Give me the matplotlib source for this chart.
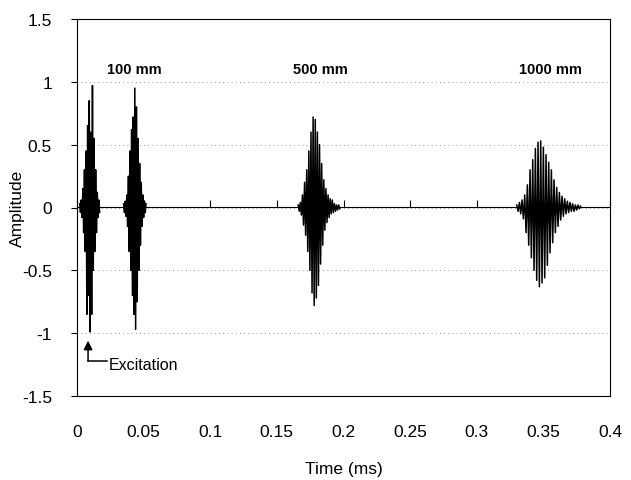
# Ultrasonic wave packets - amplitude vs time
import numpy as np
import matplotlib.pyplot as plt
from matplotlib.ticker import FuncFormatter

plt.rcParams['font.family'] = ['Liberation Sans', 'DejaVu Sans']
plt.rcParams['axes.unicode_minus'] = False

# --- DATA (alternating half-cycle peaks) ---
exc_start, exc_step = 0.002, 0.0006
exc_peaks = [0.03, -0.04, 0.06, -0.08, 0.15, -0.2, 0.3, -0.35, 0.45, -0.85,
             0.65, -0.7, 0.85, -0.99, 0.6, -0.85, 0.97, -0.5, 0.55, -0.35,
             0.3, -0.2, 0.12, -0.08, 0.06, -0.04]

p100_start, p100_step = 0.035, 0.0006
p100_peaks = [0.03, -0.04, 0.05, -0.07, 0.1, -0.15, 0.25, -0.35, 0.45, -0.5,
              0.62, -0.7, 0.72, -0.85, 0.95, -0.97, 0.8, -0.75, 0.55, -0.5,
              0.35, -0.3, 0.2, -0.15, 0.1, -0.08, 0.05, -0.04, 0.03]

p500_start, p500_step = 0.166, 0.0008
p500_peaks = [0.02, -0.03, 0.04, -0.06, 0.1, -0.14, 0.2, -0.22, 0.3, -0.35,
              0.45, -0.5, 0.6, -0.68, 0.72, -0.78, 0.7, -0.72, 0.6, -0.62,
              0.5, -0.45, 0.35, -0.3, 0.22, -0.18, 0.15, -0.12, 0.1, -0.08,
              0.07, -0.05, 0.06, -0.04, 0.03, -0.03, 0.02, -0.02, 0.02, -0.01]

p1000_start, p1000_step = 0.330, 0.001
p1000_peaks = [0.02, -0.03, 0.04, -0.05, 0.06, -0.09, 0.1, -0.2, 0.18, -0.3,
               0.3, -0.4, 0.38, -0.5, 0.47, -0.58, 0.52, -0.63, 0.53, -0.6,
               0.48, -0.56, 0.42, -0.46, 0.36, -0.36, 0.3, -0.28, 0.22, -0.2,
               0.16, -0.15, 0.12, -0.1, 0.09, -0.07, 0.07, -0.05, 0.05, -0.04,
               0.04, -0.03, 0.03, -0.03, 0.02, -0.02, 0.02, -0.01, 0.01]

packets = [(exc_start, exc_step, exc_peaks),
           (p100_start, p100_step, p100_peaks),
           (p500_start, p500_step, p500_peaks),
           (p1000_start, p1000_step, p1000_peaks)]

labels = ['100 mm', '500 mm', '1000 mm']
label_x = [0.0428, 0.183, 0.355]
label_y = 1.1

x_ticks = [0, 0.05, 0.1, 0.15, 0.2, 0.25, 0.3, 0.35, 0.4]
y_ticks = [-1.5, -1, -0.5, 0, 0.5, 1, 1.5]

# --- PLOT ---
fig = plt.figure(figsize=(6.31, 4.81), dpi=100)
ax = fig.add_axes([77 / 631, 84 / 481, 533 / 631, 377 / 481])

for start, step, peaks in packets:
    t = start + step * np.arange(len(peaks))
    ax.plot(t, peaks, color='black', linewidth=1.1)

ax.set_xlim(0, 0.4)
ax.set_ylim(-1.5, 1.5)
ax.set_xticks(x_ticks)
ax.set_yticks(y_ticks)
ax.xaxis.set_major_formatter(FuncFormatter(lambda v, p: f'{v:g}'))
ax.yaxis.set_major_formatter(FuncFormatter(lambda v, p: f'{v:g}'))
ax.tick_params(axis='x', length=0, pad=20, labelsize=12.5)
ax.tick_params(axis='y', length=4, pad=14, labelsize=12.5)
ax.grid(axis='y', linestyle=(0, (1, 4)), color='#777777', linewidth=0.6)
for s in ax.spines.values():
    s.set_linewidth(0.8)

# zero axis with small upward ticks, excel style
zero_ax = ax.secondary_xaxis(0.5)
zero_ax.set_xticks(x_ticks)
zero_ax.tick_params(direction='out', length=5, labelbottom=False, labeltop=False)
zero_ax.spines['bottom'].set_linewidth(0.8)

ax.set_xlabel('Time (ms)', fontsize=12.5, labelpad=16)
ax.set_ylabel('Amplitude', fontsize=12.5, labelpad=-2)

for lab, lx in zip(labels, label_x):
    ax.text(lx, label_y, lab, ha='center', va='center', fontsize=10.5, fontweight='bold')

ax.annotate('', xy=(0.0083, -1.06), xytext=(0.0083, -1.22),
            arrowprops=dict(arrowstyle='-|>', color='black', lw=1.1,
                            mutation_scale=13, shrinkA=0, shrinkB=0))
ax.plot([0.0083, 0.0225], [-1.22, -1.22], color='black', linewidth=1.1)
ax.text(0.024, -1.25, 'Excitation', ha='left', va='center', fontsize=11.5)

fig.savefig('out.png', dpi=100)
